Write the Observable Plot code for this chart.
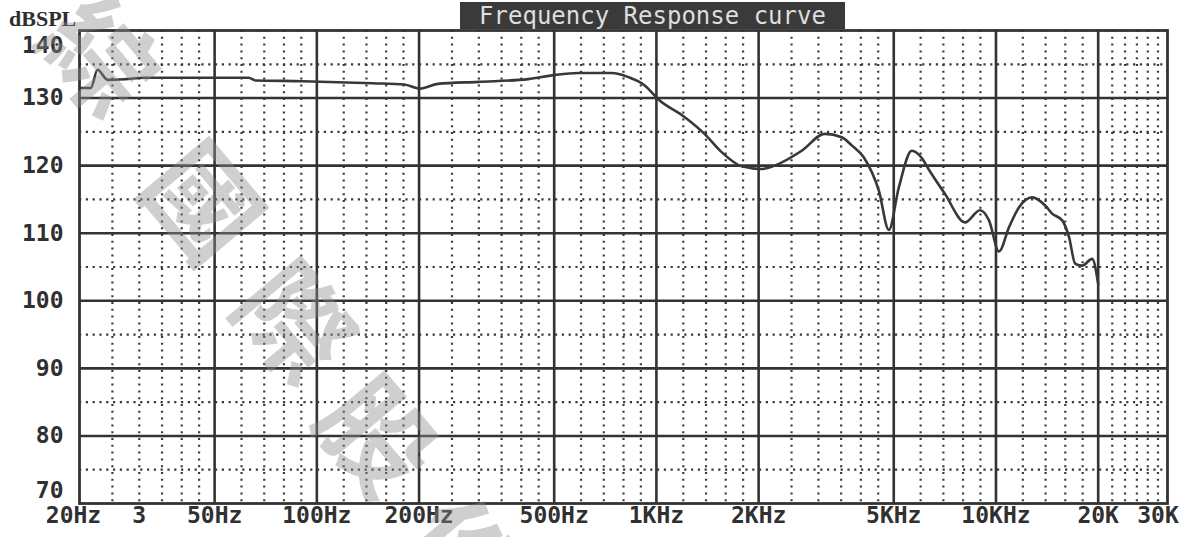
<!DOCTYPE html>
<html><head><meta charset="utf-8">
<script src="https://cdn.jsdelivr.net/npm/d3@7"></script>
<script src="https://cdn.jsdelivr.net/npm/@observablehq/plot@0.6"></script>
<style>
body{margin:0;background:#fff;}
#wrap{position:relative;width:1190px;height:537px;overflow:hidden;background:#fff;}
#chart{position:absolute;left:0;top:0;}
#title{position:absolute;left:460px;top:2px;width:385px;height:27px;background:#3a3a3a;color:#dedede;font:24px "DejaVu Sans Mono",monospace;line-height:29px;text-align:center;white-space:pre;}
#unit{position:absolute;left:9px;top:8px;font:bold 22px/1 "Liberation Serif",serif;color:#2e2e2e;}
.wm{position:absolute;font:bold 110px/1 "Noto Sans CJK TC",sans-serif;color:rgba(140,140,140,0.42);transform:translate(-50%,-50%) rotate(50deg);pointer-events:none;}
</style></head>
<body>
<div id="wrap">
  <div id="chart"></div>
  <div id="title">Frequency Response curve</div>
  <div id="unit">dBSPL</div>
</div>
<script>
// ---- data ----
const freqHz = [20, 21.6, 22.6, 24.2, 27.3, 30.9, 63, 66, 91, 146, 181, 201, 227, 299, 419, 500, 589, 737, 827, 922, 1014, 1210, 1386, 1556, 1782, 2042, 2229, 2679, 3131, 3515, 3760, 4083, 4519, 4837, 5176, 5651, 6054, 6348, 7079, 8107, 8971, 9537, 10207, 10928, 11695, 12775, 13960, 14630, 15670, 16420, 17110, 17950, 19200, 20000];
const splDb  = [131.5, 131.5, 134.2, 132.7, 132.8, 133.0, 133.0, 132.6, 132.5, 132.2, 132.0, 131.4, 132.1, 132.4, 132.8, 133.4, 133.7, 133.7, 133.1, 131.9, 129.8, 127.2, 124.7, 122.0, 119.9, 119.5, 120.0, 122.2, 124.7, 124.2, 123.0, 121.2, 116.3, 110.5, 116.8, 122.2, 121.1, 119.4, 115.8, 111.6, 113.4, 111.9, 107.3, 110.9, 113.85, 115.3, 114.1, 112.9, 111.9, 109.4, 105.5, 105.2, 106.2, 102.5];

const xTickFreqs  = [20, 30, 50, 100, 200, 500, 1000, 2000, 5000, 10000, 20000, 30000];
const xTickLabels = ["20Hz", "3", "50Hz", "100Hz", "200Hz", "500Hz", "1KHz", "2KHz", "5KHz", "10KHz", "20K", "30K"];
const yTickValues = [140, 130, 120, 110, 100, 90, 80, 70];

const majorFreqs = [50, 100, 200, 500, 1000, 2000, 5000, 10000, 20000];
const minorFreqs = [25, 30, 35, 40, 45, 60, 70, 80, 90, 120, 140, 160, 180,
                    250, 300, 350, 400, 450, 600, 700, 800, 900, 1200, 1400, 1600, 1800,
                    2500, 3000, 3500, 4000, 4500, 6000, 7000, 8000, 9000, 12000, 14000, 16000, 18000,
                    22000, 24000, 26000, 28000, 30000];
const majorDb = [80, 90, 100, 110, 120, 130];
const minorDb = [75, 85, 95, 105, 115, 125, 135];

const watermarkChars = ["綜", "國", "際", "股", "份"];

// ---- chart ----
const curve = freqHz.map((f, i) => ({f, db: splDb[i]}));
const xLabels = xTickFreqs.map((f, i) => ({f, label: xTickLabels[i]}));

const ink = "#333";
const labelFont = {fontFamily: "DejaVu Sans Mono", fontWeight: "bold", fontSize: 23, fill: "#303030"};

const chart = Plot.plot({
  width: 1190,
  height: 537,
  marginLeft: 79,
  marginRight: 23,
  marginTop: 30,
  marginBottom: 34,
  style: {background: "transparent", overflow: "visible"},
  x: {type: "log", domain: [20, 32000], axis: null},
  y: {domain: [70, 140], axis: null},
  marks: [
    Plot.ruleX(minorFreqs, {x: d => d, stroke: "#3a3a3a", strokeWidth: 2.2, strokeDasharray: "2,4.8"}),
    Plot.ruleY(minorDb, {y: d => d, stroke: "#3a3a3a", strokeWidth: 2.2, strokeDasharray: "2.2,4.6"}),
    Plot.ruleX(majorFreqs, {x: d => d, stroke: ink, strokeWidth: 2.6}),
    Plot.ruleY(majorDb, {y: d => d, stroke: ink, strokeWidth: 2.6}),
    Plot.frame({stroke: ink, strokeWidth: 2.8}),
    Plot.line(curve, {x: "f", y: "db", curve: "monotone-x", stroke: "#383838", strokeWidth: 2.6, strokeLinejoin: "round"}),
    Plot.text(xLabels.slice(0, 1), {x: "f", text: "label", frameAnchor: "bottom", dy: 19, dx: -6, textAnchor: "middle", ...labelFont}),
    Plot.text(xLabels.slice(1), {x: "f", text: "label", frameAnchor: "bottom", dy: 19, textAnchor: "middle", ...labelFont}),
    Plot.text(yTickValues.filter(v => v < 140 && v > 70), {y: d => d, text: d => String(d), frameAnchor: "left", dx: -16, textAnchor: "end", ...labelFont}),
    Plot.text([140], {y: d => d, text: d => String(d), frameAnchor: "left", dx: -16, dy: 15, textAnchor: "end", ...labelFont}),
    Plot.text([70], {y: d => d, text: d => String(d), frameAnchor: "left", dx: -16, dy: -13, textAnchor: "end", ...labelFont})
  ]
});
document.getElementById("chart").appendChild(chart);

// watermark (decorative overlay)
const wrap = document.getElementById("wrap");
const wmPos = [[105, 52], [208, 198], [300, 318], [382, 432], [468, 552]];
watermarkChars.forEach((c, i) => {
  const s = document.createElement("span");
  s.className = "wm";
  s.textContent = c;
  s.style.left = wmPos[i][0] + "px";
  s.style.top = wmPos[i][1] + "px";
  wrap.appendChild(s);
});
</script>
</body></html>
